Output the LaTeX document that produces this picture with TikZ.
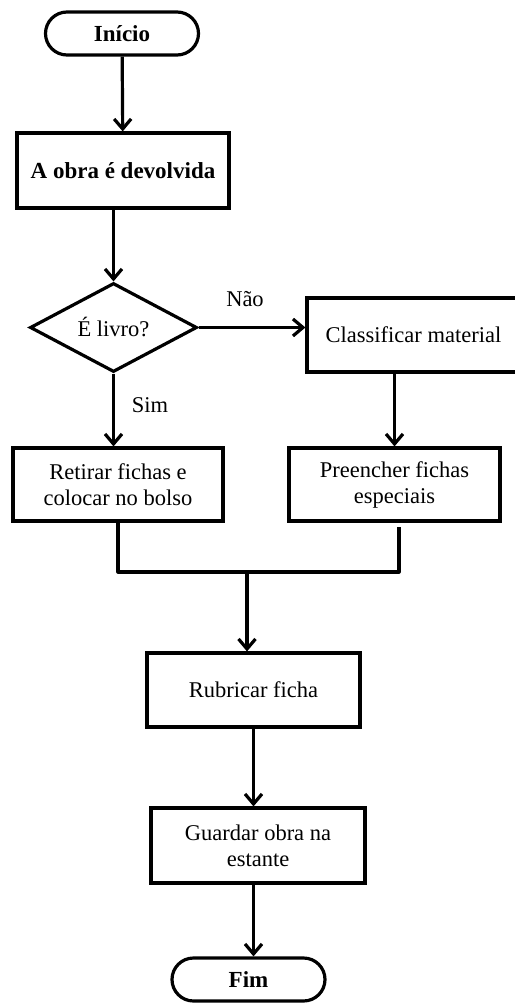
\documentclass[tikz,border=0pt]{standalone}
\usepackage{fontspec}
\setmainfont{Liberation Serif}
\usetikzlibrary{arrows.meta,shapes.geometric}
\begin{document}
\begin{tikzpicture}[x=1pt,y=-1pt,
  every node/.style={font=\fontsize{22.5}{26}\selectfont},
  base/.style={draw=black,line width=3.2pt,inner sep=0pt,align=center},
  terminal/.style={base,rounded corners=21.5pt,minimum width=153pt,minimum height=43pt,font=\fontsize{23}{26}\selectfont\bfseries},
  proc/.style={base,rectangle},
  decision/.style={base,diamond,aspect=2,minimum width=167pt,minimum height=89pt},
  flow/.style={line width=3.2pt,-{Straight Barb[length=10pt,width=17pt,line width=3.2pt]}},
  conn/.style={line width=3.2pt,line join=round},
  lbl/.style={inner sep=0pt}]
\useasboundingbox (0,0) rectangle (514,1003);
\node[terminal] (inicio) at (122,33.5) {Início};
\node[proc,minimum width=212pt,minimum height=75pt,font=\fontsize{23}{26}\selectfont\bfseries] (obra) at (123,170.5) {A obra é devolvida};
\node[decision] (dia) at (113.5,327.5) {É livro?};
\node[proc,minimum width=213pt,minimum height=74pt] (classif) at (413.5,335) {Classificar material};
\node[proc,minimum width=210pt,minimum height=73pt] (retirar) at (118,484.5) {Retirar fichas e\\colocar no bolso};
\node[proc,minimum width=211pt,minimum height=73pt] (preench) at (394.5,484.5) {Preencher fichas\\especiais};
\node[proc,minimum width=213pt,minimum height=74pt] (rubricar) at (253.5,690) {Rubricar ficha};
\node[proc,minimum width=214pt,minimum height=75pt] (guardar) at (258,845.5) {Guardar obra na\\estante};
\node[terminal] (fim) at (248.5,979.5) {Fim};
\node[lbl] (nao) at (245,299) {Não};
\node[lbl] (sim) at (150,405) {Sim};
\coordinate (m) at (247,572);
\coordinate (pe) at (399,527);
\draw[flow] (inicio) -- (obra);
\draw[flow] (obra.south -| dia.north) -- (dia.north);
\draw[flow] (dia.east) -- (classif.west |- dia.east);
\draw[flow] (dia.south) -- (dia.south |- retirar.north);
\draw[flow] (preench.north |- classif.south) -- (preench.north);
\draw[conn] (retirar.south) -- (retirar.south |- m) -- (pe |- m) -- (pe);
\draw[flow] (m) -- (m |- rubricar.north);
\draw[flow] (rubricar.south) -- (rubricar.south |- guardar.north);
\draw[flow] (rubricar.south |- guardar.south) -- (rubricar.south |- fim.north);
\end{tikzpicture}
\end{document}
